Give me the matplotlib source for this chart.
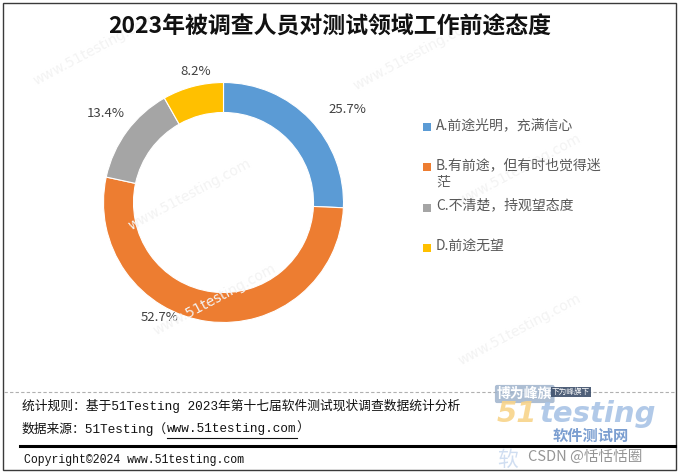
import numpy as np
import matplotlib
matplotlib.use("Agg")
import matplotlib.pyplot as plt
from matplotlib.patches import Rectangle
from matplotlib.lines import Line2D

plt.rcParams['font.family'] = ['Noto Sans CJK SC', 'DejaVu Sans']

# data
title = "2023年被调查人员对测试领域工作前途态度"
labels = ["A.前途光明，充满信心", "B.有前途，但有时也觉得迷\n茫", "C.不清楚，持观望态度", "D.前途无望"]
values = [25.7, 52.7, 13.4, 8.2]
colors = ["#5B9BD5", "#ED7D31", "#A5A5A5", "#FFC000"]
rule_text = "统计规则：基于51Testing 2023年第十七届软件测试现状调查数据统计分析"
source_text = "数据来源：51Testing（"
source_url = "www.51testing.com"
copyright_text = "Copyright©2024 www.51testing.com"

W, H = 679, 475
fig = plt.figure(figsize=(W / 100, H / 100), dpi=100)


def fx(x):
    return x / W


def fy(y):
    return 1 - y / H


# outer frame
fig.patches.append(Rectangle((fx(3), fy(470)), fx(673), 467 / H, transform=fig.transFigure,
                             fill=False, ec="#3a3a3a", lw=1.0))

# faint watermarks
for (wx, wy) in [(95, 50), (415, 55), (190, 195), (520, 170), (215, 300), (520, 330)]:
    fig.text(fx(wx), fy(wy), "www.51testing.com", rotation=28, color="#f3f3f3", fontsize=10,
             ha="center", va="center", family=["DejaVu Sans"], zorder=0)

fig.text(fx(330), fy(27), title, ha="center", va="center", fontsize=16.5, fontweight="bold", color="#111111")

# donut
ax = fig.add_axes([fx(223.5 - 180), fy(202.5 + 180), 360 / W, 360 / H])
wedges, _ = ax.pie(values, colors=colors, startangle=90, counterclock=False, radius=1,
                   wedgeprops=dict(width=0.25, edgecolor="white", linewidth=0.8))
ax.set_xlim(-1.5, 1.5)
ax.set_ylim(-1.5, 1.5)
ax.set_aspect("equal")
ax.axis("off")

# data labels (best-fit style placement)
lab_dist = [1.29, 1.10, 1.23, 1.12]
lab_shift = [-7, -21.6, -0.7, -2.8]
for w, v, d, s in zip(wedges, values, lab_dist, lab_shift):
    ang = np.deg2rad((w.theta1 + w.theta2) / 2 + s)
    ax.text(d * np.cos(ang), d * np.sin(ang), f"{v:.1f}%", ha="center", va="center",
            fontsize=9.5, color="#404040")

# legend
for i, (lab, col) in enumerate(zip(labels, colors)):
    yc = 127 + 40.3 * i
    fig.patches.append(Rectangle((fx(423), fy(yc + 4)), 8 / W, 8 / H, transform=fig.transFigure,
                                 fc=col, ec="none"))
    fig.text(fx(436), fy(yc - 9), lab, ha="left", va="top", fontsize=10, color="#595959",
             linespacing=1.25)

# footer lines
fig.add_artist(Line2D([fx(4), fx(675)], [fy(392), fy(392)], color="#b0b0b0", lw=0.8, ls=(0, (3, 2))))
fig.add_artist(Line2D([fx(20), fx(675)], [fy(446), fy(446)], color="#000000", lw=2.2))

mono = ["Liberation Mono", "Noto Sans CJK SC"]
fig.text(fx(22), fy(406), rule_text, ha="left", va="center", fontsize=9.2, family=mono, color="#111111")
t1 = fig.text(fx(22), fy(429), source_text, ha="left", va="center", fontsize=9.2, family=mono, color="#111111")
fig.canvas.draw()
bb = t1.get_window_extent()
t2 = fig.text(bb.x1 / W, fy(429), source_url, ha="left", va="center", fontsize=9.2, family=mono, color="#111111")
fig.canvas.draw()
bb2 = t2.get_window_extent()
fig.text(bb2.x1 / W, fy(429), "）", ha="left", va="center", fontsize=9.2, family=mono, color="#111111")
fig.add_artist(Line2D([bb2.x0 / W, bb2.x1 / W], [fy(438), fy(438)], color="#111111", lw=0.8))
fig.text(fx(24), fy(460), copyright_text, ha="left", va="center", fontsize=8.3, family=mono, color="#111111")

# logo watermark (approximate)
fig.text(fx(497), fy(394), "博为峰旗", ha="left", va="center", fontsize=10, fontweight="bold", color="white",
         bbox=dict(boxstyle="round,pad=0.15", fc="#9fb3cc", ec="none", alpha=0.85))
fig.text(fx(552), fy(392), "下为峰旗下", ha="left", va="center", fontsize=5.5, color="white",
         bbox=dict(boxstyle="square,pad=0.15", fc="#3d4f6b", ec="none", alpha=0.9))
fig.text(fx(497), fy(414), "51", ha="left", va="center", fontsize=21, fontweight="bold", style="italic",
         color="#f8d48a", family=["DejaVu Sans"], alpha=0.9)
fig.text(fx(540), fy(414), "testing", ha="left", va="center", fontsize=21, fontweight="bold", style="italic",
         color="#a9c4e6", family=["DejaVu Sans"], alpha=0.9)
fig.text(fx(553), fy(436), "软件测试网", ha="left", va="center", fontsize=11, fontweight="bold",
         color="#5a86c5", alpha=0.8)
fig.text(fx(497), fy(460), "软", ha="left", va="center", fontsize=15, color="#c5d6ee", alpha=0.8)
fig.text(fx(528), fy(457), "CSDN @恬恬恬圈", ha="left", va="center", fontsize=10.5, color="#8a8a8a", alpha=0.9)

fig.savefig("out.png", dpi=100)
